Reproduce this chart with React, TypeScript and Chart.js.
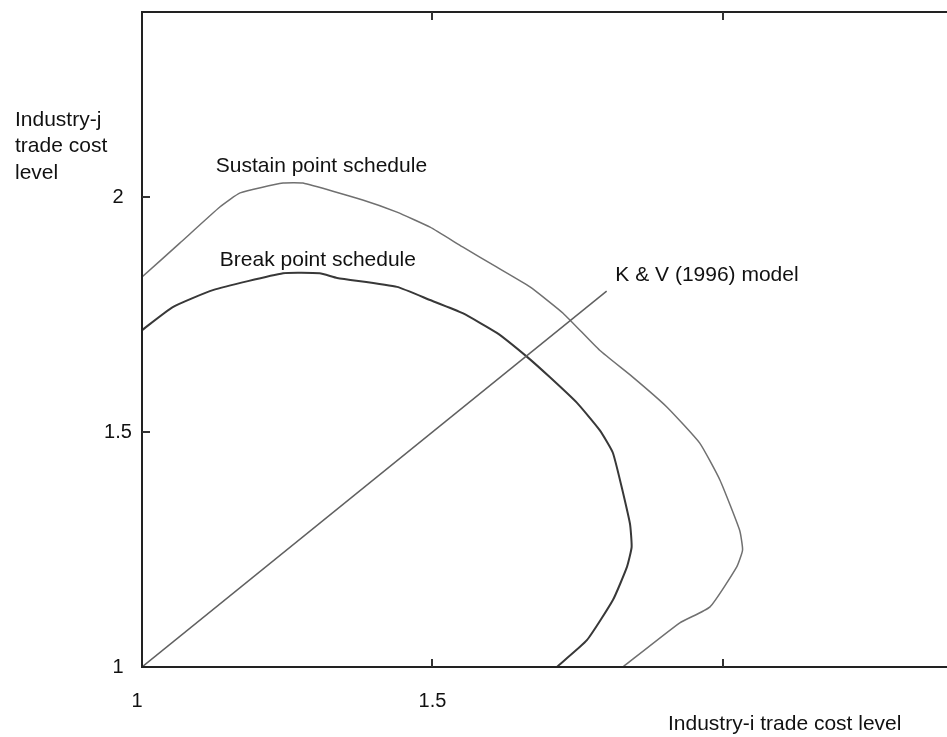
import React, { useEffect, useRef } from "react";
import { Chart, registerables } from "chart.js";

Chart.register(...registerables);

// ---- data ----
const sustainX = [1.0, 1.065, 1.134, 1.169, 1.243, 1.277, 1.38, 1.439, 1.496, 1.552, 1.611, 1.668, 1.725, 1.788, 1.845, 1.904, 1.96, 1.995, 2.029, 2.034, 2.024, 1.978, 1.926, 1.828];
const sustainY = [1.83, 1.902, 1.979, 2.009, 2.03, 2.03, 1.994, 1.968, 1.936, 1.894, 1.851, 1.809, 1.753, 1.674, 1.617, 1.553, 1.477, 1.398, 1.291, 1.249, 1.213, 1.128, 1.094, 1.0];

const breakX = [1.0, 1.053, 1.122, 1.243, 1.306, 1.336, 1.439, 1.496, 1.552, 1.611, 1.663, 1.702, 1.749, 1.788, 1.811, 1.84, 1.843, 1.835, 1.811, 1.766, 1.714];
const breakY = [1.717, 1.766, 1.802, 1.838, 1.838, 1.828, 1.809, 1.781, 1.753, 1.711, 1.66, 1.617, 1.562, 1.504, 1.455, 1.306, 1.255, 1.213, 1.143, 1.057, 1.0];

const kvX = [1.0, 1.8];
const kvY = [1.0, 1.8];

const xTickValues = [1, 1.5, 2];
const xTickLabels = ["1", "1.5", ""];
const yTickValues = [1, 1.5, 2];
const yTickLabels = ["1", "1.5", "2"];

const X_MIN = 1;
const X_MAX = 2.386;
const Y_MIN = 1;
const Y_MAX = 2.394;

const seriesNames = ["Sustain point schedule", "Break point schedule", "K & V (1996) model"];
const nameAnchorX = [1.127, 1.134, 1.815];
const nameAnchorY = [2.066, 1.866, 1.834];

const xTitle = "Industry-i trade cost level";
const yTitle = ["Industry-j", "trade cost", "level"];

const FONT = "21px 'Liberation Sans', Arial, sans-serif";
const TICK_FONT = "20px 'Liberation Sans', Arial, sans-serif";

const toPts = (xs: number[], ys: number[]) => xs.map((x, i) => ({ x, y: ys[i] }));

const framePlugin = {
  id: "framePlugin",
  afterDraw(chart: any) {
    const { ctx, chartArea: a, scales, width } = chart;
    const xs = scales.x;
    const ys = scales.y;
    ctx.save();
    // frame (right side lies outside the visible picture)
    ctx.strokeStyle = "#222";
    ctx.lineWidth = 2;
    ctx.beginPath();
    ctx.moveTo(width, a.top);
    ctx.lineTo(a.left, a.top);
    ctx.lineTo(a.left, a.bottom);
    ctx.lineTo(width, a.bottom);
    ctx.stroke();

    // inward tick marks
    ctx.strokeStyle = "#333";
    ctx.lineWidth = 2;
    ctx.beginPath();
    xTickValues.forEach((v) => {
      if (v <= X_MIN) return;
      const px = Math.round(xs.getPixelForValue(v));
      ctx.moveTo(px, a.bottom);
      ctx.lineTo(px, a.bottom - 8);
      ctx.moveTo(px, a.top);
      ctx.lineTo(px, a.top + 8);
    });
    yTickValues.forEach((v) => {
      if (v <= Y_MIN) return;
      const py = Math.round(ys.getPixelForValue(v));
      ctx.moveTo(a.left, py);
      ctx.lineTo(a.left + 8, py);
    });
    ctx.stroke();

    // tick labels
    ctx.fillStyle = "#111";
    ctx.font = TICK_FONT;
    ctx.textBaseline = "middle";
    ctx.textAlign = "center";
    xTickValues.forEach((v, i) => {
      const px = xs.getPixelForValue(v);
      ctx.fillText(xTickLabels[i], px - (v === X_MIN ? 5 : 0), a.bottom + 34);
    });
    yTickValues.forEach((v, i) => {
      const py = ys.getPixelForValue(v);
      ctx.fillText(yTickLabels[i], a.left - 24, py);
    });

    // axis titles
    ctx.font = FONT;
    ctx.textAlign = "left";
    ctx.fillText(xTitle, 668, a.bottom + 57);
    yTitle.forEach((line, i) => {
      ctx.fillText(line, 15, 120 + i * 26.5);
    });

    // curve names
    seriesNames.forEach((n, i) => {
      ctx.fillText(n, xs.getPixelForValue(nameAnchorX[i]), ys.getPixelForValue(nameAnchorY[i]));
    });
    ctx.restore();
  },
};

export default function App() {
  const ref = useRef<HTMLCanvasElement | null>(null);
  useEffect(() => {
    if (!ref.current) return;
    const chart = new Chart(ref.current, {
      type: "scatter",
      data: {
        datasets: [
          {
            label: seriesNames[2],
            data: toPts(kvX, kvY),
            showLine: true,
            borderColor: "#606060",
            borderWidth: 1.5,
            pointRadius: 0,
            tension: 0,
          },
          {
            label: seriesNames[1],
            data: toPts(breakX, breakY),
            showLine: true,
            borderColor: "#383838",
            borderWidth: 2,
            pointRadius: 0,
            tension: 0.15,
          },
          {
            label: seriesNames[0],
            data: toPts(sustainX, sustainY),
            showLine: true,
            borderColor: "#707070",
            borderWidth: 1.5,
            pointRadius: 0,
            tension: 0.15,
          },
        ],
      },
      options: {
        animation: false,
        responsive: false,
        devicePixelRatio: 1,
        layout: { padding: { left: 142, right: 0, top: 12, bottom: 70 } },
        plugins: { legend: { display: false }, tooltip: { enabled: false } },
        scales: {
          x: { type: "linear", min: X_MIN, max: X_MAX, display: false },
          y: { type: "linear", min: Y_MIN, max: Y_MAX, display: false },
        },
      },
      plugins: [framePlugin],
    });
    return () => chart.destroy();
  }, []);
  return (
    <div style={{ position: "fixed", left: 0, top: 0, width: 947, height: 737, background: "#fff", overflow: "hidden" }}>
      <canvas ref={ref} width={947} height={737} style={{ width: 947, height: 737, display: "block" }} />
    </div>
  );
}
